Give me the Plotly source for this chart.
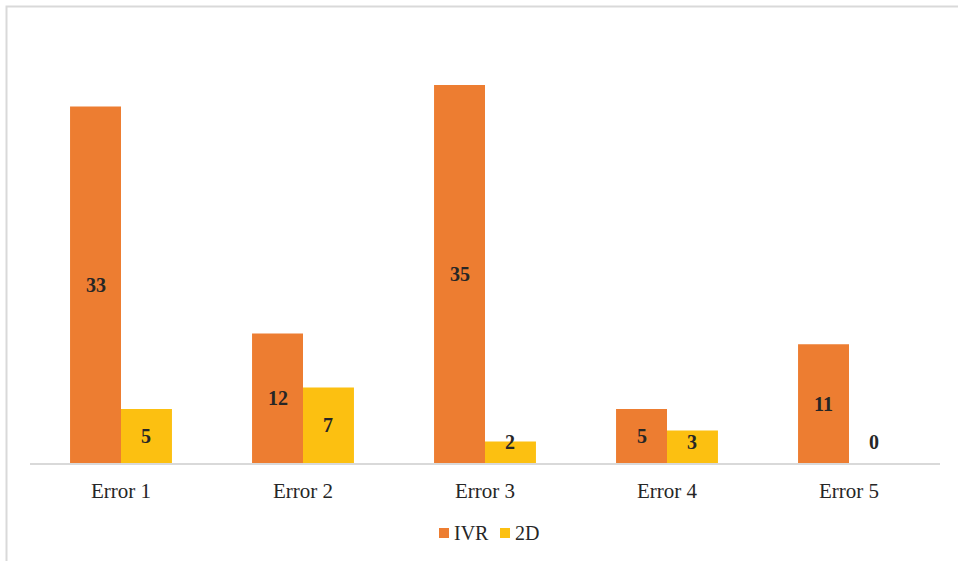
import plotly.graph_objects as go

# Error counts per category for the two conditions
categories = ["Error 1", "Error 2", "Error 3", "Error 4", "Error 5"]
ivr_counts = [33, 12, 35, 5, 11]
twod_counts = [5, 7, 2, 3, 0]
series_names = ["IVR", "2D"]

ORANGE = "#ED7D31"
GOLD = "#FCC011"
FONT = "Liberation Serif, Times New Roman, serif"
TEXT = "#262626"

positions = list(range(len(categories)))
bar_w = 0.28          # width of each bar in category units
label_floor = 1.9     # keep value labels clear of the axis line

fig = go.Figure()
fig.add_trace(go.Bar(
    name=series_names[0], x=positions, y=ivr_counts,
    width=bar_w, offset=-bar_w, marker=dict(color=ORANGE, line=dict(width=0)),
))
fig.add_trace(go.Bar(
    name=series_names[1], x=positions, y=twod_counts,
    width=bar_w, offset=0, marker=dict(color=GOLD, line=dict(width=0)),
))

# Value labels centred in each bar
annotations = []
for i, (a, b) in enumerate(zip(ivr_counts, twod_counts)):
    for val, xc in ((a, i - bar_w / 2), (b, i + bar_w / 2)):
        annotations.append(dict(
            x=xc, y=max(val / 2, label_floor), xref="x", yref="y",
            text=f"<b>{val}</b>", showarrow=False,
            font=dict(family=FONT, size=20, color=TEXT),
        ))

# Compact legend below the axis: a small square swatch followed by the name
W, H = 958, 561
ML, MR, MT, MB = 30, 18, 31, 98
pw, ph = W - ML - MR, H - MT - MB


def px_x(px):
    return (px - ML) / pw


def px_y(py):
    return (H - MB - py) / ph


shapes = []
legend_items = [(series_names[0], ORANGE, 439), (series_names[1], GOLD, 500)]
for name, color, sx in legend_items:
    shapes.append(dict(
        type="rect", xref="paper", yref="paper",
        x0=px_x(sx), x1=px_x(sx + 10), y0=px_y(538), y1=px_y(528),
        line=dict(width=0), fillcolor=color,
    ))
    annotations.append(dict(
        x=px_x(sx + 13), y=px_y(533), xref="paper", yref="paper",
        xanchor="left", yanchor="middle", text=name, showarrow=False,
        font=dict(family=FONT, size=20, color=TEXT),
    ))

# Chart-area frame
shapes.append(dict(
    type="rect", xref="paper", yref="paper",
    x0=px_x(6.5), x1=px_x(962), y0=px_y(566), y1=px_y(6.5),
    line=dict(color="#D9D9D9", width=2), fillcolor="rgba(0,0,0,0)",
    layer="below",
))

fig.update_layout(
    width=W, height=H,
    margin=dict(l=ML, r=MR, t=MT, b=MB),
    paper_bgcolor="white", plot_bgcolor="white",
    barmode="overlay",
    showlegend=False,
    xaxis=dict(
        range=[-0.5, len(categories) - 0.5],
        tickmode="array", tickvals=positions, ticktext=categories,
        tickfont=dict(family=FONT, size=21, color=TEXT),
        ticklabelstandoff=8,
        showline=True, linecolor="#D9D9D9", linewidth=2,
        showgrid=False, zeroline=False, ticks="",
    ),
    yaxis=dict(
        range=[0, 40], visible=False, showgrid=False, zeroline=False,
    ),
    annotations=annotations,
    shapes=shapes,
)

fig.write_html("out.html")
